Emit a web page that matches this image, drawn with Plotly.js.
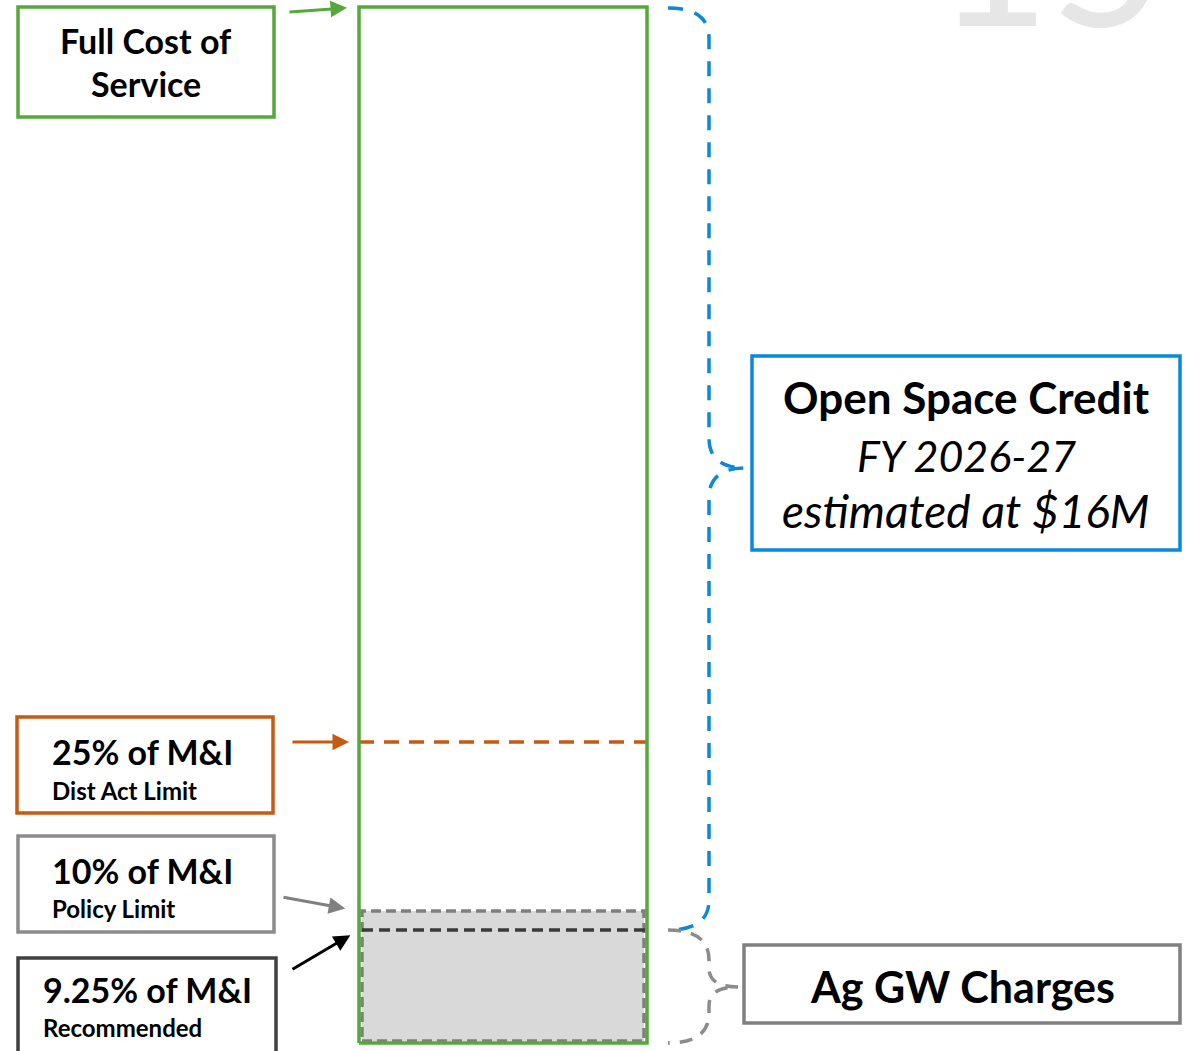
<!DOCTYPE html>
<html><head><meta charset="utf-8">
<script src="https://cdn.plot.ly/plotly-3.0.1.min.js"></script>
<style>html,body{margin:0;padding:0;background:#fff}</style>
</head><body><div id="chart" style="width:1188px;height:1051px"></div>
<script>
// ---- data (schematic levels, in % of the full-cost bar height) ----
const levelLabels = ['Full Cost of Service', '25% of M&I', '10% of M&I', '9.25% of M&I'];
const levelSubLabels = ['', 'Dist Act Limit', 'Policy Limit', 'Recommended'];
const levelValues = [100, 29.05, 12.74, 10.9];
const creditTitle = 'Open Space Credit';
const creditLines = ['FY 2026-27', 'estimated at $16M'];
const chargesLabel = 'Ag GW Charges';
const pageNumber = '15';

// ---- styling ----
const W = 1188, H = 1051;
const GREEN = '#56A83A', ORANGE = '#C55A11', GRAY = '#8C8C8C', DARK = '#404040', BLUE = '#0A88DA';
const FONT = 'Lato, "Open Sans", sans-serif';
// bar spans x 0..1 ; axis ranges set so the bar sits at px 359..647, y 0..100 at px 1043..7
const xr = [-359 / 288, (W - 359) / 288];
const yScale = (1043 - 7) / 100;
const yr = [-(H - 1043) / yScale, 100 + 7 / yScale];
const yPx = v => 1043 - v * yScale;
const PX = p => p / W, PY = p => 1 - p / H;

const ex = 3 / 288, ey = 2 / yScale;
const traces = [
  { x: [ex, 1 - ex, 1 - ex, ex, ex], y: [ey, ey, levelValues[2], levelValues[2], ey],
    mode: 'lines', fill: 'toself', fillcolor: '#D9D9D9',
    line: { color: '#7F7F7F', width: 3.5, dash: '10px,5px' }, hoverinfo: 'skip', showlegend: false },
  { x: [ex, 1], y: [levelValues[3], levelValues[3]], mode: 'lines',
    line: { color: '#3A3A3A', width: 3.5, dash: '11px,6px' }, hoverinfo: 'skip', showlegend: false },
  { x: [0, 1], y: [levelValues[1], levelValues[1]], mode: 'lines',
    line: { color: ORANGE, width: 3.5, dash: '15px,10px' }, hoverinfo: 'skip', showlegend: false },
  { x: [0, 0, 1, 1, 0], y: [0, levelValues[0], levelValues[0], 0, 0], mode: 'lines',
    line: { color: GREEN, width: 3.5 }, hoverinfo: 'skip', showlegend: false }
];

function rect(x0, y0, x1, y1, color) {
  return { type: 'rect', xref: 'paper', yref: 'paper', x0: PX(x0), x1: PX(x1), y0: PY(y0), y1: PY(y1),
    line: { color: color, width: 3.5 }, fillcolor: 'rgba(0,0,0,0)', layer: 'above' };
}
function brace(xs, xm, xt, top, tip, bot, color, dash) {
  const p = (x, y) => PX(x).toFixed(5) + ',' + PY(y).toFixed(5);
  const r = 30;
  const path = 'M' + p(xs, top) + ' Q' + p(xm, top) + ' ' + p(xm, top + r) +
    ' L' + p(xm, tip - Math.min(r, (tip - top) / 3)) + ' Q' + p(xm, tip) + ' ' + p(xt, tip) +
    ' Q' + p(xm, tip) + ' ' + p(xm, tip + Math.min(r, (bot - tip) / 3)) +
    ' L' + p(xm, bot - r) + ' Q' + p(xm, bot) + ' ' + p(xs, bot);
  return { type: 'path', xref: 'paper', yref: 'paper', path: path,
    line: { color: color, width: 3.5, dash: dash } };
}

const topPx = yPx(levelValues[0]), recPx = yPx(levelValues[3]), basePx = yPx(0);
const shapes = [
  rect(18, 7, 274, 117, GREEN),
  rect(17, 717, 273, 813, ORANGE),
  rect(18, 836, 274, 932, GRAY),
  rect(18, 958, 276, 1060, DARK),
  rect(752, 356, 1180, 550, BLUE),
  rect(744, 945, 1180, 1023, '#808080'),
  brace(668, 709, 745, topPx + 1, 468, recPx, BLUE, '15px,12px'),
  brace(668, 709, 738, recPx, 987, basePx, '#8C8C8C', '13px,10px')
];

function txt(text, x, y, size, opts) {
  return Object.assign({ text: text, xref: 'paper', yref: 'paper', x: PX(x), y: PY(y),
    xanchor: 'center', yanchor: 'middle', showarrow: false,
    font: { family: FONT, size: size, color: '#000', weight: 700 } }, opts || {});
}
function arrow(level, ax, ay, color, standoff) {
  return { xref: 'x', yref: 'y', x: 0, y: level, text: '', showarrow: true, ax: ax, ay: ay,
    arrowhead: 2, arrowsize: 1.1, arrowwidth: 3, arrowcolor: color, standoff: standoff };
}
const ital = size => ({ font: { family: FONT, size: size, color: '#000', style: 'italic' } });

const annotations = [
  txt(pageNumber, 1050, 70, 198, { yanchor: 'bottom', font: { family: FONT, size: 198, color: '#E6E6E6' } }),
  txt('Full Cost of', 146, 40, 34),
  txt('Service', 146, 84, 34),
  txt(levelLabels[1], 50, 751, 34, { xanchor: 'left' }),
  txt(levelSubLabels[1], 50, 790, 24, { xanchor: 'left' }),
  txt(levelLabels[2], 50, 870, 34, { xanchor: 'left' }),
  txt(levelSubLabels[2], 50, 908, 24, { xanchor: 'left' }),
  txt(levelLabels[3], 41, 989, 34, { xanchor: 'left' }),
  txt(levelSubLabels[3], 41, 1027, 24, { xanchor: 'left' }),
  txt(creditTitle, 966, 397, 44),
  txt(creditLines[0], 966, 455, 43, ital(43)),
  txt(creditLines[1], 966, 511, 46, ital(46)),
  txt(chargesLabel, 962, 986, 43),
  arrow(levelValues[0], -71, 5, GREEN, 12),
  arrow(levelValues[1], -68, 0, ORANGE, 10),
  arrow(levelValues[2], -77, -14, '#808080', 14),
  arrow(levelValues[3], -68, 40, '#000', 10)
];

const layout = {
  width: W, height: H, margin: { l: 0, r: 0, t: 0, b: 0 },
  paper_bgcolor: '#fff', plot_bgcolor: '#fff',
  xaxis: { range: xr, visible: false, fixedrange: true },
  yaxis: { range: yr, visible: false, fixedrange: true },
  shapes: shapes, annotations: annotations, showlegend: false
};
Plotly.newPlot('chart', traces, layout, { staticPlot: true, displayModeBar: false });
</script></body></html>
